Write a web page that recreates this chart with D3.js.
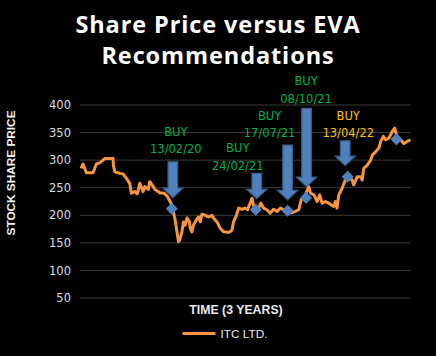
<!DOCTYPE html>
<html><head><meta charset="utf-8">
<script src="https://cdn.jsdelivr.net/npm/d3@7"></script>
<style>html,body{margin:0;padding:0;background:#000;}svg{display:block;}</style>
</head><body>
<script>
// ---- DATA ----
const startDate = "2019-01-01";
const endDay = 1480;
const dayOffsets = [0,9,24,54,69,84,99,107,144,146,152,174,189,204,219,226,242,253,264,279,287,302,309,320,332,354,374,388,408,415,423,431,438,446,453,460,468,476,487,491,498,505,513,528,536,543,558,573,588,595,611,626,640,663,678,685,698,708,723,738,748,760,768,775,783,798,808,820,835,850,865,881,896,911,926,941,963,978,989,1008,1023,1031,1046,1061,1072,1083,1098,1113,1135,1143,1150,1158,1173,1184,1196,1218,1225,1241,1256,1263,1270,1286,1301,1308,1323,1338,1346,1358,1368,1383,1398,1409,1421,1436,1450,1465,1480];
const prices = [285,293,277,277,293,295,300,303,303,289,279,276,275,267,258,240,243,239,258,243,252,247,261,255,247,241,240,234,219,207,191,170,152,158,170,188,182,195,188,176,170,182,188,197,188,202,200,197,200,195,188,176,170,169,173,188,200,213,211,213,210,222,231,219,207,213,222,213,210,204,211,207,213,210,207,204,207,210,228,237,252,240,237,225,237,222,225,222,216,225,213,237,249,261,270,264,255,270,270,264,285,291,300,309,315,322,334,343,337,340,352,358,340,337,330,334,337];
const buyDates = ["13/02/20","24/02/21","17/07/21","08/10/21","13/04/22"];
const buyPrices = [212,210,208,232,270];
const latestDate = "18/11/22";
const latestPrice = 338;
const yTicks = [50,100,150,200,250,300,350,400];
const seriesName = "ITC LTD.";

// ---- LAYOUT ----
const W = 436, H = 356;
const margin = {left: 80, right: 25.5, top: 105, bottom: 58};
const lineColor = "#F7963E", arrowFill = "#4F81BD", arrowStroke = "#385D8A";
const green = "#00B050", gold = "#FFC000";
// annotation layout: label level (price units), label dx px, arrow top (price units), arrow dx px, colour
const annoLayout = [
  {buy: 351, date: 320, dx: 4, top: 297, adx: 1, color: green},
  {buy: 321.5, date: 289.5, dx: -18, top: 276, adx: 1, color: green},
  {buy: 380, date: 350, dx: -18, top: 327.5, adx: 0, color: green},
  {buy: 444, date: 411, dx: 0, top: 394, adx: 0.5, color: green},
  {buy: 380, date: 350, dx: 0.5, top: 335, adx: -2.5, color: gold}
];

const parse = d3.timeParse("%d/%m/%y");
const start = d3.timeParse("%Y-%m-%d")(startDate);
const svg = d3.select("body").append("svg").attr("width", W).attr("height", H);
svg.append("rect").attr("width", W).attr("height", H).attr("fill", "#000");

const x = d3.scaleTime().domain([start, d3.timeDay.offset(start, endDay)]).range([81, W - margin.right]);
const y = d3.scaleLinear().domain([50, 400]).range([H - margin.bottom, margin.top]);

// gridlines
svg.append("g").selectAll("line").data(yTicks).join("line")
  .attr("x1", margin.left).attr("x2", W - margin.right)
  .attr("y1", d => y(d)).attr("y2", d => y(d))
  .attr("stroke", "#3b3b3b").attr("stroke-width", 1);

// y axis
const yAxis = svg.append("g").attr("transform", `translate(${margin.left},0)`)
  .call(d3.axisLeft(y).tickValues(yTicks).tickSize(0).tickPadding(9));
yAxis.select(".domain").remove();
yAxis.selectAll("text").attr("fill", "#d8dde6").attr("font-family", "DejaVu Sans").attr("font-size", "11.5px");

// title
const title = svg.append("text").attr("text-anchor", "middle").attr("fill", "#fff")
  .attr("font-family", "Open Sans").attr("font-weight", 700).attr("font-size", "23.5px")
  .attr("letter-spacing", "0.9px");
title.append("tspan").attr("x", 218).attr("y", 32.5).text("Share Price versus EVA");
title.append("tspan").attr("x", 218).attr("y", 64).text("Recommendations");

// axis titles
svg.append("text").attr("transform", "translate(14.5,173) rotate(-90)").attr("text-anchor", "middle")
  .attr("fill", "#f2f2f2").attr("font-family", "Liberation Sans").attr("font-weight", 700).attr("font-size", "11.8px")
  .text("STOCK SHARE PRICE");
svg.append("text").attr("x", 236).attr("y", 313.5).attr("text-anchor", "middle")
  .attr("fill", "#e6e9ef").attr("font-family", "Liberation Sans").attr("font-weight", 700).attr("font-size", "12.3px")
  .text("TIME (3 YEARS)");

// line
const pts = dayOffsets.map((d, i) => ({date: d3.timeDay.offset(start, d), v: prices[i]}));
svg.append("path").datum(pts)
  .attr("d", d3.line().x(d => x(d.date)).y(d => y(d.v)))
  .attr("fill", "none").attr("stroke", lineColor).attr("stroke-width", 3).attr("stroke-linejoin", "round");

// arrows + labels
const buys = buyDates.map((d, i) => ({label: d, date: parse(d), v: buyPrices[i], L: annoLayout[i]}));
buys.forEach(b => {
  const cx = x(b.date) + b.L.adx;
  const tip = y(b.v) - 11;
  const top = y(b.L.top);
  const headH = 9.5, headW = 10, shaftW = 4.8;
  const path = `M${cx - shaftW},${top} L${cx + shaftW},${top} L${cx + shaftW},${tip - headH} L${cx + headW},${tip - headH} L${cx},${tip} L${cx - headW},${tip - headH} L${cx - shaftW},${tip - headH} Z`;
  svg.append("path").attr("d", path).attr("fill", arrowFill).attr("stroke", arrowStroke).attr("stroke-width", 1.2);
  const lx = x(b.date) + b.L.dx;
  svg.append("text").attr("x", lx).attr("y", y(b.L.buy)).attr("dy", "0.36em").attr("text-anchor", "middle")
    .attr("fill", b.L.color).attr("font-family", "DejaVu Sans").attr("font-size", "11.5px").text("BUY");
  svg.append("text").attr("x", lx).attr("y", y(b.L.date)).attr("dy", "0.36em").attr("text-anchor", "middle")
    .attr("fill", b.L.color).attr("font-family", "DejaVu Sans").attr("font-size", "11.5px").text(b.label);
});

// diamonds
const marks = buys.map(b => ({date: b.date, v: b.v})).concat([{date: parse(latestDate), v: latestPrice}]);
svg.append("g").selectAll("path").data(marks).join("path")
  .attr("d", d3.symbol(d3.symbolSquare, 72))
  .attr("transform", d => `translate(${x(d.date)},${y(d.v)}) rotate(45)`)
  .attr("fill", "#4F81BD");

// legend
svg.append("line").attr("x1", 182.5).attr("x2", 215.5).attr("y1", 333.5).attr("y2", 333.5)
  .attr("stroke", lineColor).attr("stroke-width", 3);
svg.append("text").attr("x", 220.5).attr("y", 333.5).attr("dy", "0.36em")
  .attr("fill", "#e6e9ef").attr("font-family", "Liberation Sans").attr("font-size", "11.8px").text(seriesName);
</script>
</body></html>
